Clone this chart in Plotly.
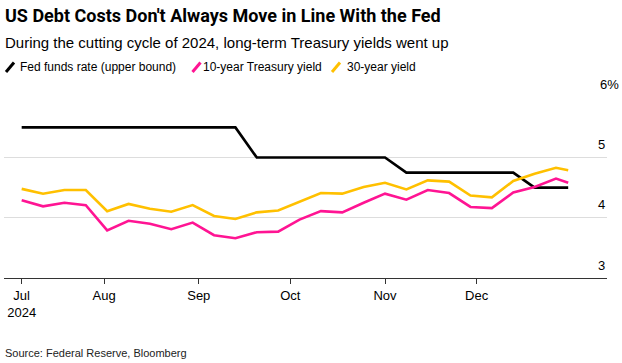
import plotly.graph_objects as go

dates = ["2024-07-05", "2024-07-12", "2024-07-19", "2024-07-26",
         "2024-08-02", "2024-08-09", "2024-08-16", "2024-08-23", "2024-08-30",
         "2024-09-06", "2024-09-13", "2024-09-20", "2024-09-27",
         "2024-10-04", "2024-10-11", "2024-10-18", "2024-10-25",
         "2024-11-01", "2024-11-08", "2024-11-15", "2024-11-22", "2024-11-29",
         "2024-12-06", "2024-12-13", "2024-12-20", "2024-12-27", "2024-12-31"]

fed_funds = [5.5, 5.5, 5.5, 5.5, 5.5, 5.5, 5.5, 5.5, 5.5, 5.5, 5.5,
             5.0, 5.0, 5.0, 5.0, 5.0, 5.0, 5.0,
             4.75, 4.75, 4.75, 4.75, 4.75, 4.75,
             4.5, 4.5, 4.5]

ten_year = [4.29, 4.19, 4.25, 4.21, 3.79, 3.95, 3.90, 3.81, 3.92,
            3.71, 3.66, 3.76, 3.77, 3.97, 4.11, 4.09, 4.25, 4.40,
            4.30, 4.46, 4.41, 4.18, 4.16, 4.42, 4.51, 4.65, 4.58]

thirty_year = [4.48, 4.40, 4.46, 4.46, 4.11, 4.23, 4.15, 4.10, 4.21,
               4.03, 3.98, 4.09, 4.12, 4.26, 4.41, 4.40, 4.51, 4.58,
               4.47, 4.62, 4.60, 4.37, 4.34, 4.61, 4.73, 4.83, 4.79]

series_names = ["Fed funds rate (upper bound)", "10-year Treasury yield", "30-year yield"]
series_colors = ["#000000", "#FF1493", "#FFC000"]

x_tick_vals = ["2024-07-05", "2024-08-01", "2024-09-01", "2024-10-01", "2024-11-01", "2024-12-01"]
x_tick_text = ["Jul<br>2024", "Aug", "Sep", "Oct", "Nov", "Dec"]
y_tick_vals = [3, 4, 5, 6]
y_tick_text = ["3", "4", "5", "6%"]

FONT = "Liberation Sans, Arial, sans-serif"
TITLE_FONT = "Roboto, Liberation Sans, Arial, sans-serif"

W, H = 622, 363
L, R, T, B = 4, 15, 97, 85
PW, PH = W - L - R, H - T - B


def px(p):
    return (p - L) / PW


def py(p):
    return (H - B - p) / PH


fig = go.Figure()
for name, vals, col in zip(series_names, [fed_funds, ten_year, thirty_year], series_colors):
    fig.add_trace(go.Scatter(x=dates, y=vals, mode="lines", name=name,
                             line=dict(color=col, width=2.6), showlegend=False,
                             hoverinfo="skip"))

fig.update_layout(
    width=W, height=H,
    margin=dict(l=L, r=R, t=T, b=B),
    paper_bgcolor="white", plot_bgcolor="white",
    font=dict(family=FONT, color="#000000", size=13),
    xaxis=dict(
        type="date",
        range=["2024-06-29 05:00", "2025-01-12 17:00"],
        tickvals=x_tick_vals, ticktext=x_tick_text,
        showgrid=False, showline=True, linecolor="#333333", linewidth=1,
        ticks="outside", ticklen=5, tickcolor="#333333", tickwidth=1,
        tickfont=dict(size=13, color="#000000"),
        zeroline=False, fixedrange=True,
    ),
    yaxis=dict(
        range=[3, 6.005],
        tickvals=y_tick_vals, showticklabels=False,
        showgrid=True, gridcolor="#dddddd", gridwidth=1,
        zeroline=False, showline=False, ticks="", fixedrange=True,
    ),
)

# y tick labels above gridlines, right aligned
for v, t in zip(y_tick_vals, y_tick_text):
    if t.endswith("%"):
        fig.add_annotation(x=1, xref="paper", y=v, yref="y", text=t, showarrow=False,
                           xanchor="left", yanchor="middle", xshift=-9, yshift=13,
                           font=dict(size=13, color="#000000"))
    else:
        fig.add_annotation(x=1, xref="paper", y=v, yref="y", text=t, showarrow=False,
                           xanchor="right", yanchor="middle", xshift=0, yshift=13,
                           font=dict(size=13, color="#000000"))

# Title, subtitle
fig.add_annotation(x=px(3), xref="paper", y=py(16), yref="paper", xanchor="left", yanchor="middle",
                   text="<b>US Debt Costs Don't Always Move in Line With the Fed</b>",
                   showarrow=False, font=dict(family=TITLE_FONT, size=18, color="#000000"))
fig.add_annotation(x=px(3), xref="paper", y=py(42.5), yref="paper", xanchor="left", yanchor="middle",
                   text="During the cutting cycle of 2024, long-term Treasury yields went up",
                   showarrow=False, font=dict(size=15, color="#000000"))

# Legend (manual, slash symbols)
legend_slash_x = [10, 196.5, 336]
legend_text_x = [18, 201, 345]
for sx, tx, name, col in zip(legend_slash_x, legend_text_x, series_names, series_colors):
    fig.add_shape(type="line", xref="paper", yref="paper",
                  x0=px(sx - 4), x1=px(sx + 4),
                  y0=py(72), y1=py(62.5),
                  line=dict(color=col, width=3))
    fig.add_annotation(x=px(tx), xref="paper", y=py(67.5), yref="paper",
                       xanchor="left", yanchor="middle", text=name, showarrow=False,
                       font=dict(size=12, color="#000000"))

# Source
fig.add_annotation(x=px(3), xref="paper", y=py(353), yref="paper", xanchor="left", yanchor="middle",
                   text="Source: Federal Reserve, Bloomberg", showarrow=False,
                   font=dict(size=11, color="#222222"))

fig.write_html("out.html", config={"displayModeBar": False},
               post_script="document.body.style.margin='0';")
